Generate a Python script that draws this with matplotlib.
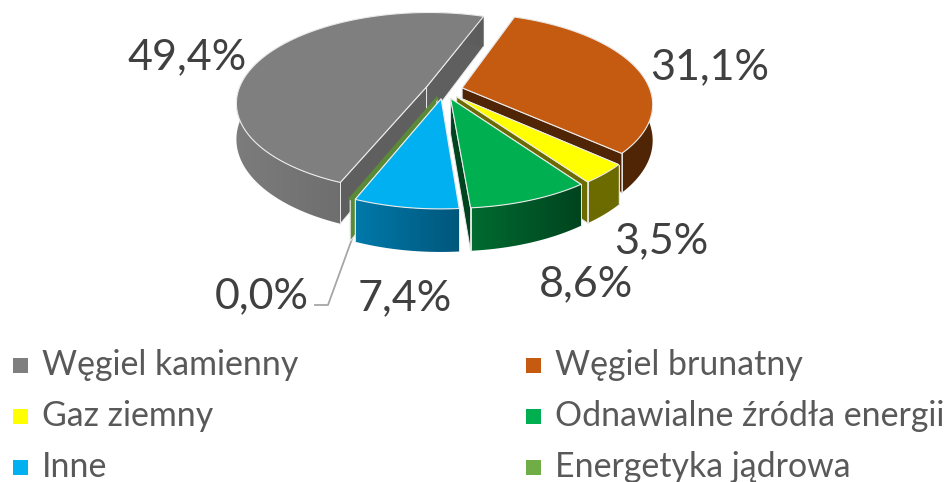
import numpy as np
from matplotlib import pyplot as plt
from matplotlib.colors import LinearSegmentedColormap
from matplotlib.patches import Polygon, Rectangle

plt.rcParams["font.family"] = ["Lato", "DejaVu Sans"]

# dane
names = ["Węgiel kamienny", "Węgiel brunatny", "Gaz ziemny",
         "Odnawialne źródła energii", "Inne", "Energetyka jądrowa"]
values = [49.4, 31.1, 3.5, 8.6, 7.4, 0.0]
labels = ["49,4%", "31,1%", "3,5%", "8,6%", "7,4%", "0,0%"]

top_colors = ["#7f7f7f", "#c55a11", "#ffff00", "#00b050", "#00b0f0", "#70ad47"]
face_colors = ["#5f5f5f", "#4f2506", "#6b6b00", "#00441f", "#005a80", "#5a8a38"]
wall_left = ["#7c7c7c", "#4f2506", "#6b6b00", "#006b30", "#0079aa", "#5a8a38"]
wall_right = ["#5c5c5c", "#4f2506", "#6b6b00", "#00441f", "#00577c", "#5a8a38"]

label_pos = [(187, 57), (710, 67), (661, 241), (586, 284), (405, 298), (262, 296)]

# geometria pseudo 3D
cx, cy = 444, 90
a, b = 188, 88
k = 0.17
explode = 0.1
depth = 35
start = 248


def project(u, v, drop=0.0):
    w = 1 + k * v
    return cx + a * u / w, cy - b * v / w + drop * depth / w


fig = plt.figure(figsize=(9.51, 4.82), dpi=100)
ax = fig.add_axes([0, 0, 1, 1])

angles = start - np.cumsum([0] + values) * 3.6

# kolejnosc rysowania: od tylu do przodu
for z, i in enumerate([0, 1, 2, 3, 5, 4], start=1):
    t0, t1 = np.radians(angles[i]), np.radians(angles[i + 1])
    mid = (t0 + t1) / 2
    ox, oy = explode * np.cos(mid), explode * np.sin(mid)
    ts = np.linspace(t0, t1, max(2, int(abs(t1 - t0) * 60)))
    us, vs = ox + np.cos(ts), oy + np.sin(ts)

    # sciany ciecia
    for t in (t0, t1):
        u, v = ox + np.cos(t), oy + np.sin(t)
        quad = [project(ox, oy), project(u, v), project(u, v, 1), project(ox, oy, 1)]
        ax.add_patch(Polygon(quad, fc=face_colors[i], ec="#e8e8e8", lw=0.7, zorder=z))

    if values[i] == 0:
        p0, p1 = project(us[0], vs[0]), project(ox, oy)
        ax.plot([p0[0], p1[0]], [p0[1], p1[1]], color=face_colors[i], lw=2, zorder=z)
        continue

    # sciana zewnetrzna z gradientem
    upper = [project(u, v) for u, v in zip(us, vs)]
    lower = [project(u, v, 1) for u, v in zip(us, vs)]
    wall = upper + lower[::-1]
    xs = [p[0] for p in wall]
    ys = [p[1] for p in wall]
    cmap = LinearSegmentedColormap.from_list("w", [wall_left[i], wall_right[i]])
    im = ax.imshow(np.linspace(0, 1, 64).reshape(1, -1), cmap=cmap, aspect="auto",
                   extent=(min(xs), max(xs), max(ys), min(ys)), zorder=z)
    clip = Polygon(wall, transform=ax.transData)
    im.set_clip_path(clip)

    # krawedzie pionowe
    for u, v in ((us[0], vs[0]), (us[-1], vs[-1])):
        if v < 0.3:
            p0, p1 = project(u, v), project(u, v, 1)
            ax.plot([p0[0], p1[0]], [p0[1], p1[1]], color="#e8e8e8", lw=0.7, zorder=z)

    # gora
    top = [project(ox, oy)] + upper
    ax.add_patch(Polygon(top, fc=top_colors[i], ec="#ececec", lw=0.8, zorder=z))

# etykiety
for lab, (x, y) in zip(labels, label_pos):
    ax.text(x, y, lab, fontsize=31, color="#404040", ha="center", va="center")

# linia odniesienia 0,0%
ax.plot([352, 328, 315], [239, 305, 305], color="#a6a6a6", lw=1.3, zorder=1)

# legenda
leg_x = [13, 526]
leg_y = [365, 416, 467]
for i, name in enumerate(names):
    x = leg_x[i % 2]
    y = leg_y[i // 2]
    ax.add_patch(Rectangle((x, y - 7), 15, 15, fc=top_colors[i], ec="none"))
    ax.text(x + 29, y, name, fontsize=24.4, color="#595959", ha="left", va="center")

ax.set_xlim(0, 951)
ax.set_ylim(482, 0)
ax.axis("off")

plt.savefig("out.png", dpi=100)
